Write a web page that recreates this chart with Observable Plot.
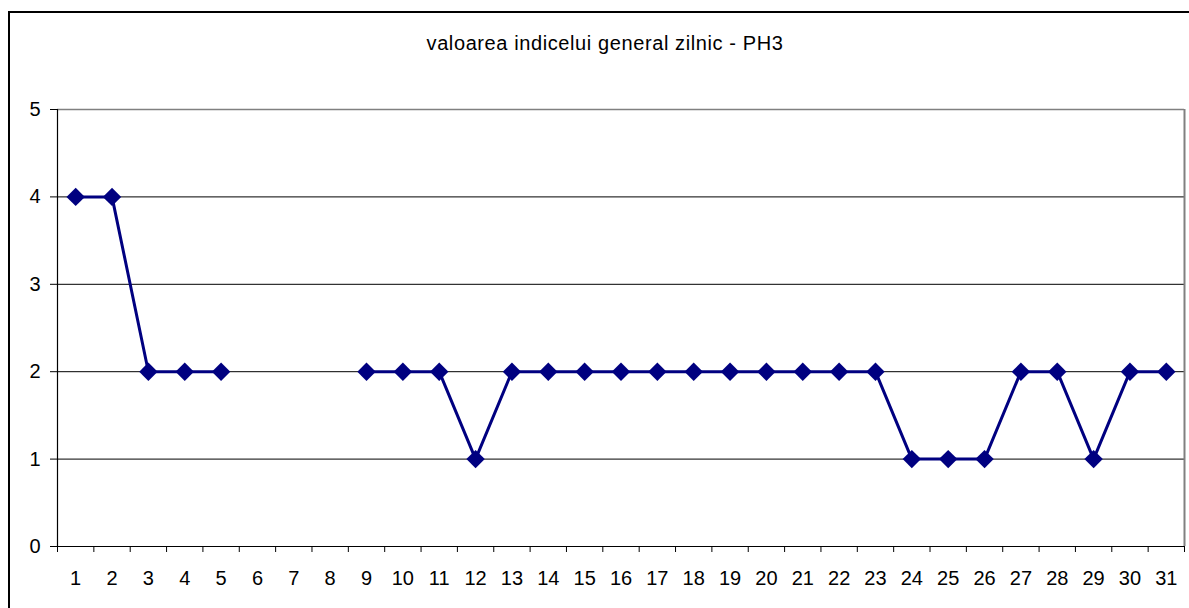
<!DOCTYPE html>
<html><head><meta charset="utf-8">
<script src="https://cdn.jsdelivr.net/npm/d3@7"></script>
<script src="https://cdn.jsdelivr.net/npm/@observablehq/plot@0.6"></script>
<style>
body{margin:0;background:#fff;overflow:hidden}
#wrap{position:relative;width:1189px;height:608px;overflow:hidden}
#chart{position:absolute;left:0;top:0}
#frame{position:absolute;left:8px;top:11px;width:1300px;height:700px;border:2px solid #000;box-sizing:border-box;pointer-events:none}
</style></head><body>
<div id="wrap"><div id="chart"></div><div id="frame"></div></div>
<script>
const title = "valoarea indicelui general zilnic - PH3";
const days = [1,2,3,4,5,6,7,8,9,10,11,12,13,14,15,16,17,18,19,20,21,22,23,24,25,26,27,28,29,30,31];
const values = [4,4,2,2,2,null,null,null,2,2,2,1,2,2,2,2,2,2,2,2,2,2,2,1,1,1,2,2,1,2,2];
const yTicks = [0,1,2,3,4,5];
const gridTicks = [1,2,3,4];

const data = days.map((d, i) => ({day: d, value: values[i]}));
const boundaries = days.map(d => d - 0.5).concat([days[days.length - 1] + 0.5]);

const chart = Plot.plot({
  width: 1189,
  height: 608,
  marginLeft: 57,
  marginRight: 5,
  marginTop: 109,
  marginBottom: 62,
  style: {fontFamily: "'Liberation Sans', Arial, sans-serif", fontSize: "20px", color: "#000", background: "transparent"},
  x: {type: "linear", domain: [0.5, days.length + 0.5], label: null},
  y: {domain: [0, 5], label: null},
  marks: [
    Plot.gridY(gridTicks, {stroke: "#000", strokeOpacity: 1, strokeWidth: 1}),
    Plot.ruleY([5], {stroke: "#808080", strokeWidth: 1.5}),
    Plot.ruleX([days.length + 0.5], {stroke: "#808080", strokeWidth: 2}),
    Plot.ruleX([0.5], {stroke: "#000", strokeWidth: 1.2}),
    Plot.ruleY([0], {stroke: "#000", strokeWidth: 1.2}),
    Plot.axisY(yTicks, {tickSize: 7, tickPadding: 10, fontSize: 20, tickFormat: "d"}),
    Plot.axisX(days, {tickSize: 0, tickPadding: 24, fontSize: 20, tickFormat: "d"}),
    Plot.axisX(boundaries, {tickSize: 6, tickFormat: () => ""}),
    Plot.line(data, {x: "day", y: "value", stroke: "#000080", strokeWidth: 3}),
    Plot.dot(data, {x: "day", y: "value", symbol: "diamond2", r: 8.3, fill: "#000080", stroke: "none"}),
    Plot.text([title], {frameAnchor: "top", dy: -66, dx: -16, lineAnchor: "middle", fontSize: 20, fill: "#000"})
  ]
});
d3.select(chart).selectAll('g[aria-label="text"] text').style("letter-spacing", "0.6px");
document.getElementById("chart").appendChild(chart);
</script>
</body></html>
